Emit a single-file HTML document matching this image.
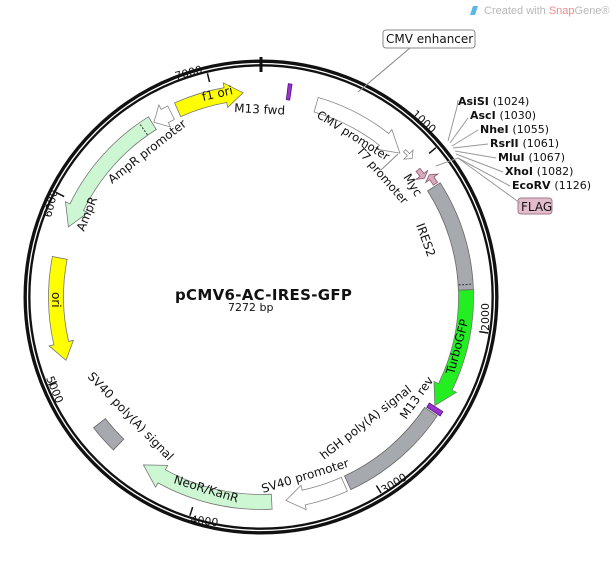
<!DOCTYPE html>
<html><head><meta charset="utf-8">
<style>
html,body{margin:0;padding:0;background:#fff;}
svg{display:block;font-family:"DejaVu Sans","Liberation Sans",sans-serif;}
text{font-size:11px;fill:#111;}
.b{font-weight:bold;}
</style></head><body>
<svg id="s" width="612" height="566" viewBox="0 0 612 566" xmlns="http://www.w3.org/2000/svg">
<rect width="612" height="566" fill="#fff"/>
<path d="M473 6 l5 0 l-3 9 l-5 0z" fill="#5bb8e6"/>
<text x="484" y="14" style="font-family:'Liberation Sans',sans-serif;font-size:11px;fill:#b8b8b8">Created with <tspan fill="#f08a8a">Snap</tspan>Gene®</text>
<circle cx="261" cy="297" r="234" fill="none" stroke="#111" stroke-width="7"/>
<circle cx="261" cy="297" r="233.5" fill="none" stroke="#fff" stroke-width="1.3"/>
<g id="ticks" stroke="#111" stroke-width="1.5"></g>
<line x1="261" y1="57" x2="261" y2="72" stroke="#111" stroke-width="3"/>
<g id="feat"></g>

<text class="b" x="175" y="300" style="font-size:15px;letter-spacing:0.3px">pCMV6-AC-IRES-GFP</text>
<text x="228" y="311" style="font-size:11px">7272 bp</text>

<rect x="383" y="30" width="92" height="18" rx="3" fill="#fff" stroke="#888"/>
<text x="386" y="43" style="font-size:12px">CMV enhancer</text>
<line x1="410" y1="48" x2="358" y2="92" stroke="#888"/>

<text transform="translate(203,101) rotate(-13)" style="font-size:12px">f1 ori</text>
<text transform="translate(234,112) rotate(3)" style="font-size:12px">M13 fwd</text>
<text transform="translate(176,80) rotate(-15)" style="font-size:11px">7000</text>
<text transform="translate(112,184) rotate(-38)" style="font-size:12px">AmpR promoter</text>
<text transform="translate(84,232) rotate(-68)" style="font-size:12px">AmpR</text>
<text transform="translate(51,218) rotate(-76)" style="font-size:11px">6000</text>
<text transform="translate(52,292) rotate(90)" style="font-size:12px">ori</text>
<text transform="translate(46,378) rotate(68)" style="font-size:11px">5000</text>
<text transform="translate(87,377) rotate(46)" style="font-size:12px">SV40 poly(A)  signal</text>
<text transform="translate(173,483) rotate(17)" style="font-size:12px">NeoR/KanR</text>
<text transform="translate(190,523) rotate(7)" style="font-size:11px">4000</text>
<text transform="translate(263,493) rotate(-17)" style="font-size:12px">SV40 promoter</text>
<text transform="translate(324,460) rotate(-38)" style="font-size:12px">hGH poly(A) signal</text>
<text transform="translate(406,420) rotate(-55)" style="font-size:12px">M13 rev</text>
<text transform="translate(384,494) rotate(-32)" style="font-size:11px">3000</text>
<text transform="translate(454,375) rotate(-75)" style="font-size:12px">TurboGFP</text>
<text transform="translate(489,331) rotate(-90)" style="font-size:11px">2000</text>
<text transform="translate(416,225) rotate(70)" style="font-size:12px">IRES2</text>
<text transform="translate(403,177) rotate(58)" style="font-size:12px">Myc</text>
<text transform="translate(356,151) rotate(49)" style="font-size:11.5px">T7 promoter</text>
<text transform="translate(316,117) rotate(32)" style="font-size:11.5px">CMV promoter</text>
<text transform="translate(411,115) rotate(42)" style="font-size:11px">1000</text>
<line x1="381" y1="170" x2="398" y2="154" stroke="#888"/>

<g style="font-size:12px">
<text x="458" y="105" class="b">AsiSI <tspan font-weight="normal" font-size="11">(1024)</tspan></text>
<text x="470" y="119" class="b">AscI <tspan font-weight="normal" font-size="11">(1030)</tspan></text>
<text x="480" y="133" class="b">NheI <tspan font-weight="normal" font-size="11">(1055)</tspan></text>
<text x="490" y="147" class="b">RsrII <tspan font-weight="normal" font-size="11">(1061)</tspan></text>
<text x="498" y="161" class="b">MluI <tspan font-weight="normal" font-size="11">(1067)</tspan></text>
<text x="505" y="175" class="b">XhoI <tspan font-weight="normal" font-size="11">(1082)</tspan></text>
<text x="512" y="189" class="b">EcoRV <tspan font-weight="normal" font-size="11">(1126)</tspan></text>
</g>
<rect x="518" y="198" width="34" height="16" rx="3" fill="#e2bccb" stroke="#a07a8a"/>
<text x="521" y="211" style="font-size:12px">FLAG</text>
<g stroke="#999" stroke-width="1" fill="none">
<polyline points="448,141 457,107 458,100"/>
<polyline points="450,143 468,118"/>
<polyline points="452,146 478,130"/>
<polyline points="453,148 488,144"/>
<polyline points="455,151 496,158"/>
<polyline points="456,154 503,172"/>
<polyline points="458,158 510,186"/>
<polyline points="436,166 458,158 520,203"/>
</g>
</svg>
<script>
var cx=261,cy=297,NS="http://www.w3.org/2000/svg";
function P(a,r){var t=a*Math.PI/180;return [cx+r*Math.sin(t),cy-r*Math.cos(t)];}
function f(p){return p[0].toFixed(1)+","+p[1].toFixed(1);}
function arc(a1,a2,r,sw){return "A"+r+","+r+" 0 "+(Math.abs(a2-a1)>180?1:0)+","+sw+" ";}
function shape(a1,a2,r,w,dir,hl,fill,stroke){
 var ri=r-w/2,ro=r+w/2,d;
 if(dir==0){d="M"+f(P(a1,ro))+arc(a1,a2,ro,1)+f(P(a2,ro))+"L"+f(P(a2,ri))+arc(a2,a1,ri,0)+f(P(a1,ri))+"Z";}
 else if(dir==1){var b=a2-hl;d="M"+f(P(a1,ro))+arc(a1,b,ro,1)+f(P(b,ro))+"L"+f(P(b,ro+5))+"L"+f(P(a2,r))+"L"+f(P(b,ri-5))+"L"+f(P(b,ri))+arc(b,a1,ri,0)+f(P(a1,ri))+"Z";}
 else {var b=a1+hl;d="M"+f(P(b,ro))+arc(b,a2,ro,1)+f(P(a2,ro))+"L"+f(P(a2,ri))+arc(a2,b,ri,0)+f(P(b,ri))+"L"+f(P(b,ri-5))+"L"+f(P(a1,r))+"L"+f(P(b,ro+5))+"Z";}
 var e=document.createElementNS(NS,"path");e.setAttribute("d",d);e.setAttribute("fill",fill);e.setAttribute("stroke",stroke||"#777");e.setAttribute("stroke-width","0.8");
 document.getElementById("feat").appendChild(e);}
function ln(a,r1,r2,c,w,dash){var p=P(a,r1),q=P(a,r2),e=document.createElementNS(NS,"line");
 e.setAttribute("x1",p[0]);e.setAttribute("y1",p[1]);e.setAttribute("x2",q[0]);e.setAttribute("y2",q[1]);
 e.setAttribute("stroke",c);e.setAttribute("stroke-width",w);if(dash)e.setAttribute("stroke-dasharray",dash);
 document.getElementById("feat").appendChild(e);}
var T=document.getElementById("ticks");
[1000,2000,3000,4000,5000,6000,7000].forEach(function(bp){var a=bp/7272*360,p=P(a,230),q=P(a,221);
 var e=document.createElementNS(NS,"line");e.setAttribute("x1",p[0]);e.setAttribute("y1",p[1]);e.setAttribute("x2",q[0]);e.setAttribute("y2",q[1]);T.appendChild(e);});
shape(-24,-5,205,15,1,5,"#ffff00");
shape(-31.5,-26,205,15,2,3.5,"#fff","#888");
shape(-70,-32,205,15,2,6,"#ccf7d2");
ln(-35,198,212,"#333",1,"2,1.5");
shape(-108,-79,205,15,2,5,"#ffff00");
shape(-136,-128,205,15,0,0,"#a6a9ad","#666");
shape(177,215,205,15,1,6,"#ccf7d2");
shape(156,173,205,15,1,5,"#fff","#888");
shape(124,155,205,15,0,0,"#a6a9ad","#666");
shape(88,122,205,15,1,6,"#22ee22");
shape(57.5,88,205,15,0,0,"#a6a9ad","#666");
ln(86.5,198,212,"#333",1,"2,1.5");
shape(16,44,200,15,1,6,"#fff","#888");
shape(44.5,47.5,205,3,1,1.5,"#fff","#888");
shape(51,54,202,5,1,1.2,"#d9a9bd","#8a5a6a");
shape(54,57,208,5,2,1.2,"#d9a9bd","#8a5a6a");
shape(122.2,123.6,207,16,0,0,"#9933cc","#551188");
shape(7.3,8.3,207,16,0,0,"#9933cc","#551188");
</script>
</body></html>
